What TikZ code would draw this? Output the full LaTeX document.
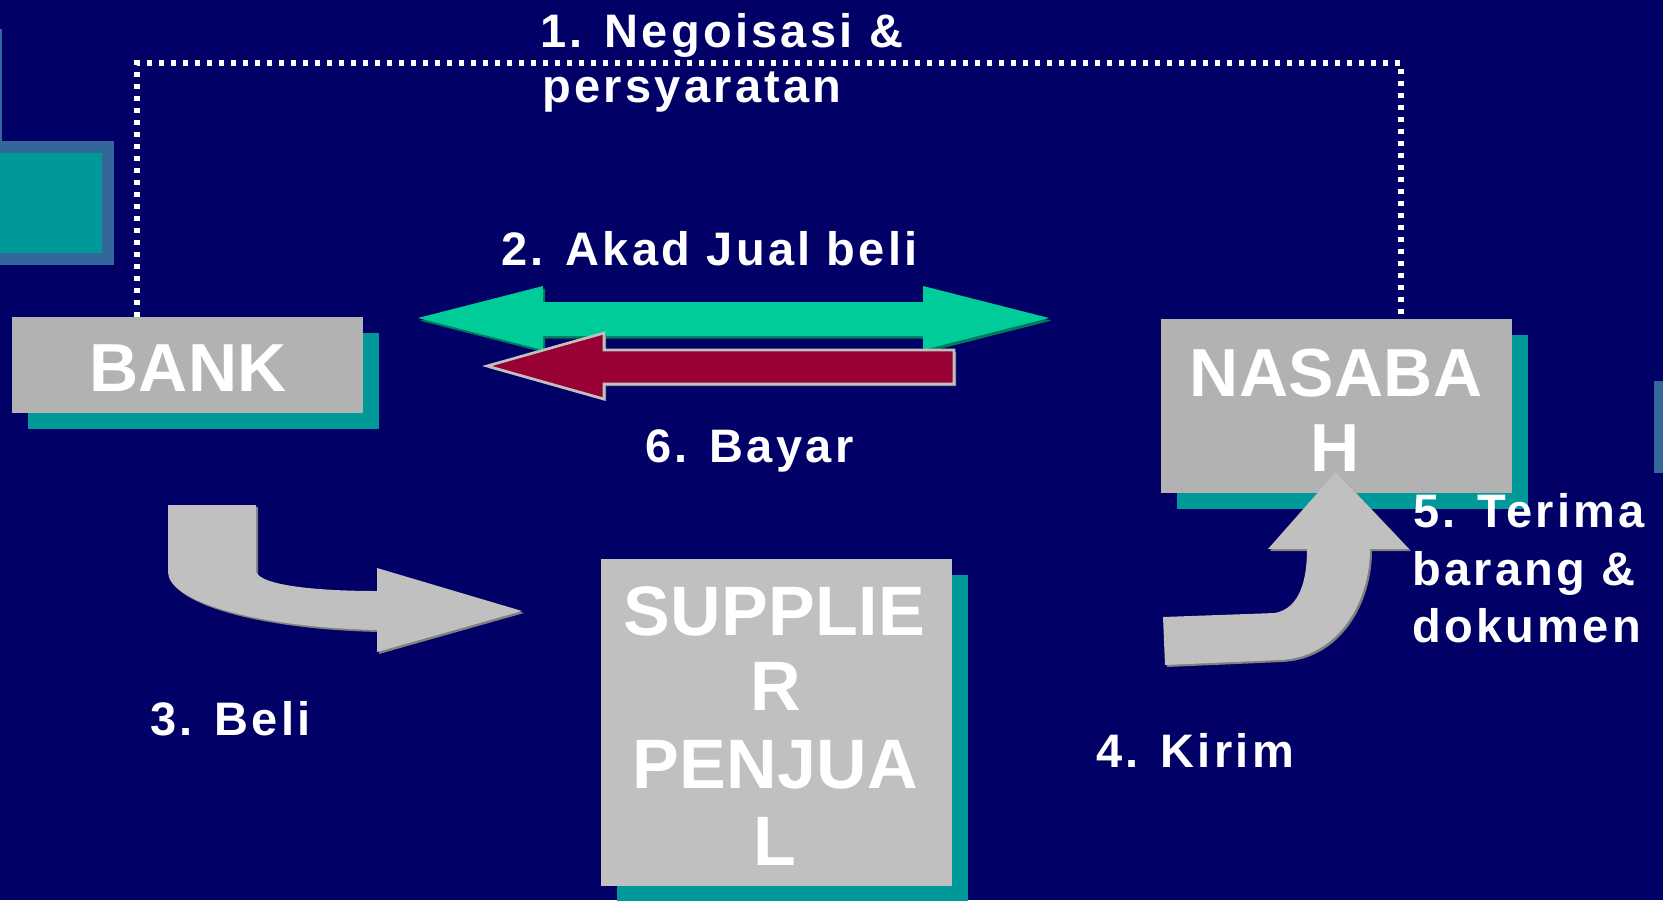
\documentclass[tikz,border=0pt]{standalone}
\usepackage{fontspec}
\setmainfont{Liberation Sans}
\newfontfamily\labfont[LetterSpace=7]{Liberation Sans}
\newfontfamily\boxfont[LetterSpace=0.5]{Liberation Sans}
\usetikzlibrary{shadows}
\definecolor{bg}{HTML}{000066}
\definecolor{boxgray}{HTML}{B2B2B2}
\definecolor{boxgraylt}{HTML}{C0C0C0}
\definecolor{tealsh}{HTML}{009999}
\definecolor{steel}{HTML}{336699}
\definecolor{agreen}{HTML}{00CC99}
\definecolor{agreensh}{HTML}{007A5C}
\definecolor{ared}{HTML}{990033}
\definecolor{ashadow}{HTML}{808080}
\begin{document}
\begin{tikzpicture}[x=0.75pt,y=-0.75pt,
  box/.style={inner sep=0pt, outer sep=0pt, minimum width=263.25pt,
    drop shadow={shadow xshift=12pt, shadow yshift=-12pt, fill=tealsh, opacity=1}},
  boxtxt/.style={anchor=base, text=white, inner sep=0pt, font=\boxfont\bfseries\fontsize{51pt}{57pt}\selectfont},
  suptxt/.style={anchor=base, text=white, inner sep=0pt, font=\boxfont\bfseries\fontsize{52.5pt}{58pt}\selectfont},
  labtxt/.style={anchor=base west, text=white, inner sep=0pt, font=\labfont\bfseries\fontsize{35.25pt}{43.5pt}\selectfont},
  dotline/.style={white, line width=4pt, dash pattern=on 4pt off 5pt},
  grayarrow/.style={fill=boxgraylt, drop shadow={shadow xshift=1.5pt, shadow yshift=-1.5pt, fill=ashadow, opacity=1}},
]
\fill[bg] (0,0) rectangle (1663,900);
\useasboundingbox (0,0) rectangle (1663,900);

% decorations
\fill[steel] (0,29) rectangle (2,141);
\fill[steel] (0,141) rectangle (114,265);
\fill[tealsh] (0,153) rectangle (102,253);
\fill[steel] (1654,381) rectangle (1663,473);

% boxes
\node[box, fill=boxgray, minimum height=72pt] (bank) at (187.5,365) {};
\node[box, fill=boxgray, minimum height=130.5pt] (nasabah) at (1336.5,406) {};
\node[box, fill=boxgraylt, minimum height=245.25pt] (supplier) at (776.5,722.5) {};

\node[boxtxt] (tbank) at (188,391) {BANK};
\node[boxtxt] (tnas1) at (1336,396) {NASABA};
\node[boxtxt] (tnas2) at (1335,471) {H};
\node[suptxt] (tsup1) at (774,635) {SUPPLIE};
\node[suptxt] (tsup2) at (776,710) {R};
\node[suptxt] (tsup3) at (775,788) {PENJUA};
\node[suptxt] (tsup4) at (775,865) {L};

% dotted connector
\coordinate (d1) at (137,63);
\coordinate (d2) at (1401,63);
\draw[dotline] (bank.north -| d1) -- (d1) -- (d2) -- (nasabah.north -| d2);

% green double arrow
\fill[agreen, drop shadow={shadow xshift=1.5pt, shadow yshift=-2pt, fill=agreensh, opacity=1}]
  (418,318) -- (543,286) -- (543,302) -- (923,302) -- (923,286) -- (1049,318)
  -- (923,350) -- (923,336) -- (543,336) -- (543,350) -- cycle;

% red arrow
\filldraw[fill=ared, draw=boxgraylt, line width=2pt,
  drop shadow={shadow xshift=1.5pt, shadow yshift=-1.5pt, fill=ashadow, opacity=1}]
  (487,366) -- (604,333) -- (604,350) -- (954,350) -- (954,384) -- (604,384) -- (604,399) -- cycle;

% arrow 3 (Beli)
\fill[grayarrow]
  (168,505) -- (256,505) -- (256,572)
  .. controls (262,586) and (320,591) .. (377,591)
  -- (377,568) -- (522,611) -- (377,652) -- (377,630)
  .. controls (250,627) and (168,600) .. (168,572) -- cycle;

% arrow 4/5 (Kirim / Terima)
\fill[grayarrow]
  (1163,617) -- (1275,613)
  .. controls (1300,608) and (1307,580) .. (1307,549)
  -- (1268,549) -- (1336,472) -- (1409,549) -- (1370,549)
  .. controls (1370,600) and (1340,657) .. (1280,660)
  -- (1165,665) -- cycle;

% labels
\node[labtxt] (l1a) at (540,47) {1. Negoisasi \&};
\node[labtxt] (l1b) at (542,102) {persyaratan};
\node[labtxt] (l2) at (501,265) {2. Akad Jual beli};
\node[labtxt] (l6) at (645,462) {6. Bayar};
\node[labtxt] (l3) at (150,735) {3. Beli};
\node[labtxt] (l4) at (1096,767) {4. Kirim};
\node[labtxt] (l5a) at (1413,527) {5. Terima};
\node[labtxt] (l5b) at (1412,585) {barang \&};
\node[labtxt] (l5c) at (1412,642) {dokumen};
\end{tikzpicture}
\end{document}
